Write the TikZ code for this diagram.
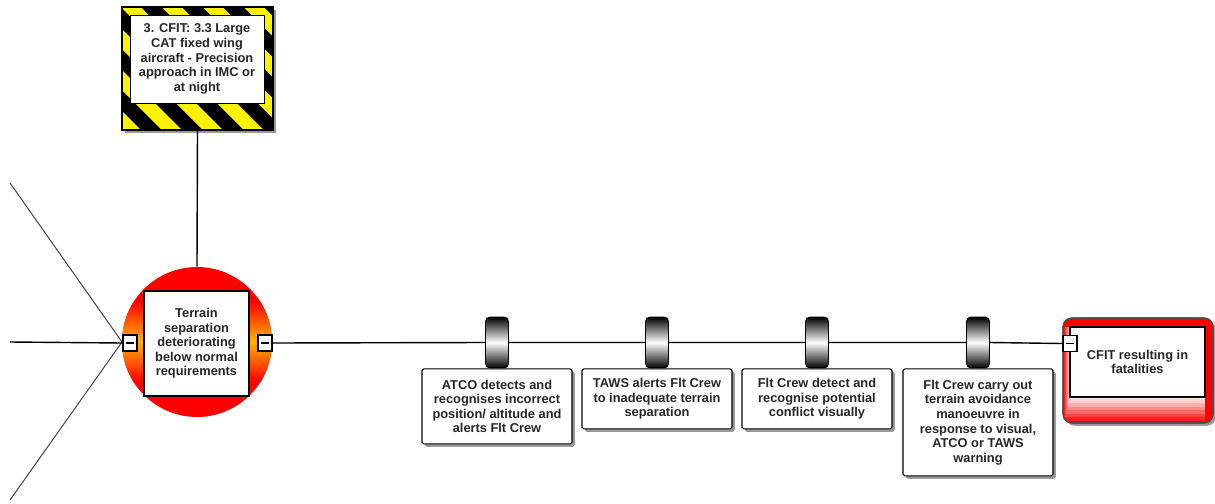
\documentclass[tikz,border=0pt]{standalone}
\usepackage{fontspec}
\setmainfont{Liberation Sans}
\usetikzlibrary{positioning,shadows}

\definecolor{threatorange}{RGB}{255,180,0}

\tikzset{
  lbl/.style={font=\fontsize{7.3}{8.3}\selectfont\bfseries, align=center, text=black!85},
  wire/.style={line width=0.8pt},
  legwire/.style={line width=0.55pt, draw=black!75},
  boxshadow/.style={drop shadow={shadow xshift=1.6pt, shadow yshift=-1.6pt, fill=black!40, opacity=1}},
  descbox/.style={lbl, draw, line width=0.6pt, fill=white, minimum width=3cm, inner sep=1pt, rounded corners=1pt, boxshadow},
  barrier/.style={draw, line width=0.5pt, rounded corners=2.5pt, minimum width=0.46cm, minimum height=1.02cm, inner sep=0pt,
    top color=black, bottom color=black, middle color=white},
  minusbox/.style={draw, line width=0.7pt, fill=white, minimum width=0.28cm, minimum height=0.32cm, inner sep=0pt,
    path picture={\draw[line width=0.7pt] ([xshift=-2.2pt]path picture bounding box.center) -- ([xshift=2.2pt]path picture bounding box.center);}},
}

\begin{document}
\begin{tikzpicture}[x=0.02cm, y=-0.02cm]
\useasboundingbox (0,0) rectangle (1215,504);

% Hazard with warning stripes
\node[draw, line width=0.7pt, fill=yellow, minimum width=3.02cm, minimum height=2.46cm, inner sep=0pt, boxshadow,
  path picture={\foreach \s in {0,...,7}
    \fill[black] ([xshift=\s*0.82cm-2.9cm]path picture bounding box.north west) -- ++(0.41cm,0) -- ++(3.2cm,-3.2cm) -- ++(-0.41cm,0) -- cycle;}]
  (haz) at (197.5,68.5) {};
\node[lbl, draw, line width=0.5pt, fill=white, minimum width=2.68cm, minimum height=1.76cm, inner sep=0pt] (haztxt) at (197,59)
  {3. CFIT: 3.3 Large\\CAT fixed wing\\aircraft - Precision\\approach in IMC or\\at night};

% Threat legs
\coordinate (t1) at (10,183);
\coordinate (t2) at (10,342);
\coordinate (t3) at (10,500);
\draw[legwire] (t1) -- (122,342);
\draw[legwire] (t3) -- (122,342);

% Top event
\node[circle, minimum size=3cm, inner sep=0pt, fill=red] (top) at (197,342) {};
\begin{scope}
  \clip (197,342) circle (75);
  \foreach \i [evaluate=\i as \p using {int(max(0,100-abs(\i)*5))}] in {-20,...,20}
    \fill[threatorange!\p!red] (120,{342+2*\i-1.2}) rectangle (275,{342+2*\i+1.2});
\end{scope}
\node[lbl, draw, line width=0.7pt, fill=white, minimum size=2.1cm, inner sep=0pt] (toptxt) at (196.5,343.5)
  {Terrain\\separation\\deteriorating\\below normal\\requirements};
\draw[wire] (haz.south) -- (top.north);
\node[minusbox] (lsq) at (130,343) {};
\node[minusbox] (rsq) at (265,343) {};
\draw[wire] (t2) -- (lsq.west);

% Barriers
\node[barrier] (b1) at (497,342.5) {};
\node[barrier] (b2) at (657,342.5) {};
\node[barrier] (b3) at (817,342.5) {};
\node[barrier] (b4) at (978,342.5) {};

\node[descbox, below=0pt of b1, minimum height=1.5cm] (d1)
  {ATCO detects and\\recognises incorrect\\position/ altitude and\\alerts Flt Crew};
\node[descbox, below=0pt of b2, minimum height=1.2cm] (d2)
  {TAWS alerts Flt Crew\\to inadequate terrain\\separation};
\node[descbox, below=0pt of b3, minimum height=1.2cm] (d3)
  {Flt Crew detect and\\recognise potential\\conflict visually};
\node[descbox, below=0pt of b4, minimum height=2.14cm] (d4)
  {Flt Crew carry out\\terrain avoidance\\manoeuvre in\\response to visual,\\ATCO or TAWS\\warning};

% Consequence
\node[draw=black!70, line width=0.6pt, fill=red, rounded corners=5pt, minimum width=3cm, minimum height=2.1cm, boxshadow] (cons) at (1138,370.5) {};
\begin{scope}
  \clip[rounded corners=5pt] (1063,318) rectangle (1213,423);
  \foreach \k/\c in {0/88,1/74,2/60,3/46,4/32,5/18,6/6}
    \fill[red!\c!white] ({1064+\k},327) rectangle (1205,{421-3.6*\k});
\end{scope}
\draw[black!70, line width=0.6pt, rounded corners=5pt] (1063,318) rectangle (1213,423);
\node[lbl, draw, line width=0.6pt, fill=white, minimum width=2.7cm, minimum height=1.4cm, inner sep=0pt] (constxt) at (1137.5,362)
  {CFIT resulting in\\fatalities};
\node[minusbox] (fsq) at (1070,343.5) {};

% Main line
\draw[wire] (rsq.east) -- (b1.west) (b1.east) -- (b2.west) (b2.east) -- (b3.west) (b3.east) -- (b4.west) (b4.east) -- (fsq.west);
\end{tikzpicture}
\end{document}
